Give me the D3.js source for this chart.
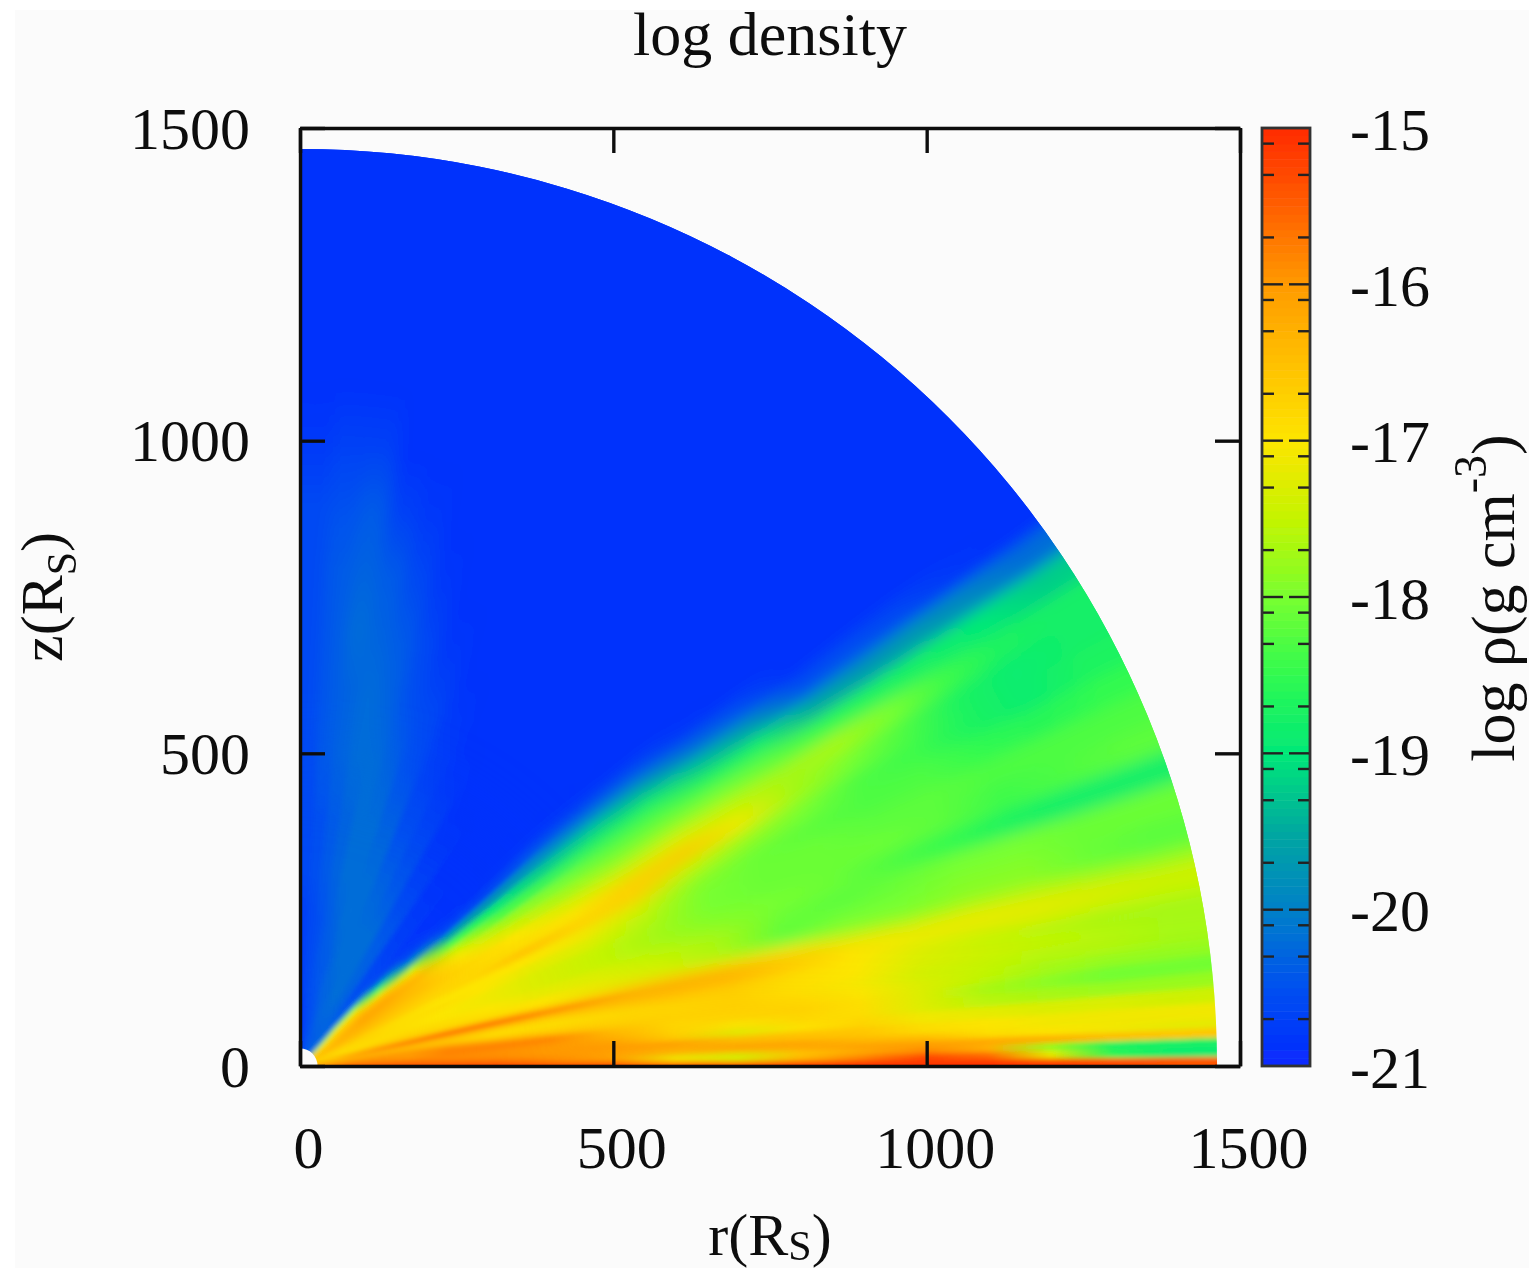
<!DOCTYPE html>
<html>
<head>
<meta charset="utf-8">
<title>log density</title>
<script src="https://cdn.jsdelivr.net/npm/d3@7"></script>
<style>
    html, body { margin: 0; padding: 0; background: #fff; }
    svg { display: block; }
    text { font-family: "Liberation Serif", serif; fill: #111; }
</style>
</head>
<body>
<svg id="chart" width="1529" height="1271"></svg>
<script>
"use strict";

// Radii (R_S) where the density was read, and edges of the theta bands (degrees above the midplane).
var radii = [45, 80, 125, 175, 237, 312, 400, 500, 600, 700, 800, 900, 1000, 1100, 1200, 1300, 1407];
var thetaEdges = [0, 0.6, 1.2, 1.8, 2.4, 3, 4, 5, 6, 7, 8, 9, 10, 11, 12, 13, 14, 16, 18, 20, 22, 24, 26, 28, 30,
    32, 34, 36, 38, 40, 42, 44, 46, 48, 50, 55, 60, 64, 68, 72, 75, 78, 81, 84, 87, 90];

// log density, one row per theta band (bottom to top), one column per radius.
var logRho = [
    [-15.5,-15.3,-15.2,-15.2,-15.2,-15.2,-15.2,-15.2,-15.2,-15.2,-15.2,-15.1,-15.1,-15.1,-15.2,-15.3,-15.4],
    [-15.5,-15.5,-15.5,-15.5,-15.5,-15.5,-15.7,-15.9,-17.0,-17.3,-16.4,-15.8,-15.3,-15.6,-17.2,-18.6,-18.9],
    [-15.6,-15.6,-15.6,-15.6,-15.6,-15.6,-15.9,-16.2,-17.2,-17.4,-16.6,-16.2,-15.9,-16.3,-17.8,-18.7,-18.8],
    [-15.7,-15.6,-15.6,-15.6,-15.7,-15.8,-15.9,-16.1,-16.3,-16.3,-16.2,-16.1,-16.1,-16.2,-16.3,-16.5,-16.6],
    [-15.8,-15.7,-15.7,-15.7,-15.8,-15.9,-16.0,-16.1,-16.2,-16.0,-16.1,-16.4,-16.5,-16.9,-17.0,-17.1,-17.2],
    [-15.9,-15.8,-15.8,-15.8,-15.9,-15.9,-16.0,-16.0,-16.0,-16.4,-16.5,-16.6,-16.9,-17.0,-17.1,-17.1,-17.1],
    [-16.0,-15.9,-15.9,-16.0,-15.8,-15.9,-16.0,-16.1,-16.7,-17.3,-17.0,-16.8,-17.1,-17.2,-17.3,-17.3,-17.4],
    [-16.1,-16.0,-16.0,-16.1,-15.8,-15.8,-15.9,-16.3,-16.8,-17.0,-16.8,-16.9,-17.3,-17.6,-17.7,-17.8,-17.8],
    [-16.2,-16.0,-16.0,-16.0,-15.8,-15.8,-15.8,-16.4,-16.8,-16.7,-16.7,-16.9,-17.3,-17.7,-17.9,-18.1,-18.1],
    [-16.4,-16.1,-15.9,-15.9,-15.9,-16.2,-16.5,-16.7,-16.7,-16.7,-16.8,-17.0,-17.3,-17.5,-17.7,-17.8,-17.8],
    [-16.6,-16.3,-16.2,-16.3,-16.4,-16.7,-16.8,-16.8,-16.8,-16.7,-16.9,-17.1,-17.4,-17.5,-17.6,-17.6,-17.7],
    [-16.8,-16.5,-16.5,-16.5,-16.6,-16.9,-16.9,-16.9,-16.8,-16.7,-16.9,-17.0,-17.3,-17.4,-17.5,-17.6,-17.7],
    [-16.9,-16.6,-16.4,-16.4,-16.5,-16.7,-16.8,-16.7,-16.6,-16.7,-16.9,-17.0,-17.3,-17.5,-17.6,-17.7,-17.7],
    [-16.6,-16.3,-16.1,-16.1,-16.2,-16.3,-16.4,-16.3,-16.3,-16.3,-16.6,-17.0,-17.2,-17.3,-17.3,-17.4,-17.5],
    [-15.6,-15.4,-15.3,-15.3,-15.3,-15.5,-15.8,-15.9,-16.0,-16.2,-16.6,-16.9,-17.1,-17.1,-17.2,-17.3,-17.4],
    [-16.2,-16.1,-16.0,-16.0,-16.0,-16.2,-16.6,-16.8,-16.8,-16.9,-17.1,-17.6,-17.7,-17.6,-17.6,-17.7,-17.8],
    [-16.8,-16.8,-16.7,-16.7,-16.8,-16.9,-17.0,-17.2,-17.4,-17.7,-18.2,-18.0,-18.0,-17.9,-17.9,-18.1,-18.2],
    [-16.8,-16.9,-16.8,-16.8,-16.9,-17.0,-17.2,-17.3,-17.5,-17.7,-18.1,-18.2,-18.1,-18.0,-18.0,-18.1,-18.1],
    [-16.8,-16.9,-16.9,-16.9,-17.0,-17.1,-17.3,-17.5,-17.7,-17.9,-18.0,-18.1,-18.3,-18.5,-18.7,-18.8,-18.8],
    [-16.8,-16.8,-16.8,-16.9,-17.0,-17.1,-17.3,-17.5,-17.7,-18.0,-18.1,-18.1,-18.1,-18.2,-18.4,-18.3,-18.2],
    [-16.7,-16.8,-16.8,-16.9,-16.9,-17.0,-17.2,-17.3,-17.6,-18.0,-18.1,-18.1,-18.2,-18.2,-18.3,-18.3,-18.3],
    [-16.7,-16.7,-16.8,-16.9,-17.0,-17.0,-17.0,-17.1,-17.4,-17.9,-18.1,-18.2,-18.3,-18.3,-18.5,-18.6,-18.5],
    [-16.5,-16.5,-16.6,-16.7,-16.8,-16.8,-16.6,-16.7,-16.7,-17.5,-17.8,-18.0,-18.3,-18.4,-18.7,-18.9,-18.7],
    [-16.4,-16.4,-16.5,-16.6,-16.7,-16.8,-16.9,-17.0,-16.7,-16.6,-17.1,-17.7,-18.0,-18.3,-18.7,-18.9,-18.8],
    [-16.4,-16.4,-16.4,-16.5,-16.6,-16.8,-17.0,-17.3,-17.4,-17.3,-17.5,-17.7,-17.7,-18.0,-18.4,-18.7,-18.8],
    [-16.4,-16.3,-16.3,-16.4,-16.5,-16.9,-17.3,-17.7,-17.9,-17.9,-18.0,-18.2,-18.5,-18.7,-18.8,-19.0,-19.2],
    [-16.5,-16.3,-16.2,-16.3,-16.5,-17.1,-17.7,-18.0,-18.2,-18.3,-18.6,-18.8,-19.5,-19.7,-19.7,-19.9,-20.2],
    [-16.6,-16.4,-16.2,-16.2,-16.4,-17.5,-18.3,-18.6,-18.7,-18.8,-19.3,-19.7,-20.5,-20.5,-20.6,-20.8,-20.9],
    [-16.8,-16.5,-16.2,-16.3,-16.7,-18.3,-18.9,-19.2,-19.2,-19.5,-20.2,-20.5,-20.9,-20.9,-20.9,-20.9,-20.9],
    [-17.0,-16.7,-16.5,-16.7,-17.6,-19.5,-19.8,-19.9,-20.2,-20.4,-20.8,-20.9,-20.9,-20.9,-20.9,-20.9,-20.9],
    [-17.2,-16.8,-16.7,-17.8,-19.5,-20.6,-20.7,-20.7,-20.8,-20.9,-20.9,-20.9,-20.9,-20.9,-20.9,-20.9,-20.9],
    [-17.6,-17.1,-17.3,-19.0,-20.5,-20.8,-20.9,-20.9,-20.9,-20.9,-20.9,-20.9,-20.9,-20.9,-20.9,-20.9,-20.9],
    [-18.6,-17.8,-18.2,-20.2,-20.7,-20.9,-20.9,-20.9,-20.9,-20.9,-20.9,-20.9,-20.9,-20.9,-20.9,-20.9,-20.9],
    [-20.0,-19.5,-20.2,-20.6,-20.8,-20.9,-20.9,-20.9,-20.9,-20.9,-20.9,-20.9,-20.9,-20.9,-20.9,-20.9,-20.9],
    [-20.3,-20.4,-20.5,-20.6,-20.7,-20.8,-20.9,-20.9,-20.9,-20.9,-20.9,-20.9,-20.9,-20.9,-20.9,-20.9,-20.9],
    [-20.3,-20.3,-20.3,-20.3,-20.4,-20.6,-20.8,-20.9,-20.9,-20.9,-20.9,-20.9,-20.9,-20.9,-20.9,-20.9,-20.9],
    [-20.4,-20.3,-20.2,-20.2,-20.2,-20.4,-20.6,-20.8,-20.9,-20.9,-20.9,-20.9,-20.9,-20.9,-20.9,-20.9,-20.9],
    [-20.4,-20.3,-20.2,-20.2,-20.2,-20.3,-20.5,-20.7,-20.8,-20.9,-20.9,-20.9,-20.9,-20.9,-20.9,-20.9,-20.9],
    [-20.4,-20.3,-20.3,-20.2,-20.2,-20.2,-20.3,-20.5,-20.6,-20.8,-20.9,-20.9,-20.9,-20.9,-20.9,-20.9,-20.9],
    [-20.5,-20.4,-20.3,-20.3,-20.2,-20.2,-20.2,-20.3,-20.5,-20.6,-20.8,-20.9,-20.9,-20.9,-20.9,-20.9,-20.9],
    [-20.5,-20.5,-20.4,-20.4,-20.3,-20.2,-20.2,-20.2,-20.3,-20.4,-20.6,-20.8,-20.9,-20.9,-20.9,-20.9,-20.9],
    [-20.5,-20.5,-20.5,-20.4,-20.4,-20.3,-20.3,-20.2,-20.2,-20.3,-20.4,-20.7,-20.9,-20.9,-20.9,-20.9,-20.9],
    [-20.6,-20.6,-20.5,-20.5,-20.5,-20.4,-20.4,-20.3,-20.3,-20.2,-20.3,-20.4,-20.7,-20.9,-20.9,-20.9,-20.9],
    [-20.7,-20.7,-20.6,-20.6,-20.6,-20.5,-20.5,-20.4,-20.4,-20.4,-20.4,-20.5,-20.7,-20.9,-20.9,-20.9,-20.9],
    [-20.8,-20.8,-20.7,-20.7,-20.7,-20.6,-20.6,-20.6,-20.6,-20.6,-20.6,-20.6,-20.8,-20.9,-20.9,-20.9,-20.9]
];

// Colour box.
var colorLevels = [-21, -20.5, -20, -19.5, -19, -18.5, -18, -17.5, -17, -16.5, -16, -15.5, -15];
var colorValues = ["#0828ff", "#0050f0", "#0080c8", "#00a8a0", "#00e878", "#30fa50", "#78ff30", "#c4f400",
    "#fde500", "#ffc000", "#ff9a00", "#ff5f00", "#ff2a00"];

var axisTicks = [0, 500, 1000, 1500];
var colorTicks = [-21, -20, -19, -18, -17, -16, -15];
var colorMinorOffsets = [0.1, 0.3, 0.7];
var innerRadius = 28;
var outerRadius = 1465;

var x = d3.scaleLinear().domain([0, 1500]).range([300, 1240]);
var y = d3.scaleLinear().domain([0, 1500]).range([1066, 128]);
var radius = d3.scaleLinear().domain([0, 1500]).range([0, 939]);
var cbarY = d3.scaleLinear().domain([-21, -15]).range([1066, 128]);
var color = d3.scaleLinear().domain(colorLevels).range(colorValues).clamp(true);

var svg = d3.select("#chart");
var origin = "translate(" + x(0) + "," + y(0) + ")";

svg.append("rect").attr("x", 15).attr("y", 10).attr("width", 1514).attr("height", 1258).attr("fill", "#fbfbfb");

var defs = svg.append("defs");

function blurFilter(id, sd) {
    defs.append("filter").attr("id", id).attr("filterUnits", "userSpaceOnUse")
        .attr("x", 0).attr("y", 0).attr("width", 1529).attr("height", 1271)
        .append("feGaussianBlur").attr("stdDeviation", sd);
}
blurFilter("fine", 2.5);
blurFilter("wide", 8);
blurFilter("maskBlur", 35);
blurFilter("soft", 0.7);

var toAngle = function (deg) { return (90 - deg) * Math.PI / 180; };

defs.append("clipPath").attr("id", "sector")
    .append("path")
    .attr("transform", origin)
    .attr("d", d3.arc()({
        innerRadius: radius(innerRadius),
        outerRadius: radius(outerRadius),
        startAngle: 0,
        endAngle: Math.PI / 2
    }));

// Fade in the wide blur away from the centre and the midplane.
defs.append("mask").attr("id", "outerZone").attr("maskUnits", "userSpaceOnUse")
    .attr("x", 0).attr("y", 0).attr("width", 1529).attr("height", 1271)
    .append("g").attr("filter", "url(#maskBlur)")
    .append("path")
    .attr("transform", origin)
    .attr("fill", "#fff")
    .attr("d", d3.arc()({
        innerRadius: radius(480),
        outerRadius: radius(1800),
        startAngle: toAngle(110),
        endAngle: toAngle(6)
    }));

// One radial gradient per theta band, with a stop at every radius read.
logRho.forEach(function (row, i) {
    var gradient = defs.append("radialGradient")
        .attr("id", "band" + i)
        .attr("gradientUnits", "userSpaceOnUse")
        .attr("cx", 0).attr("cy", 0).attr("r", radius(1500));
    gradient.selectAll("stop")
        .data(row)
        .enter().append("stop")
        .attr("offset", function (d, j) { return radii[j] / 1500; })
        .attr("stop-color", function (d) { return color(d); });
});

var lastRow = logRho.length - 1;

// The edge bands run on past the clip so the blur does not fade at the borders.
var bandArc = d3.arc()
    .innerRadius(0)
    .outerRadius(radius(1600))
    .startAngle(function (d, i) { return toAngle(thetaEdges[i + 1] + (i === lastRow ? 5 : 0)); })
    .endAngle(function (d, i) { return toAngle(thetaEdges[i] - (i === 0 ? 5 : 0)); });

function drawBands(parent, filterId) {
    parent.append("g")
        .attr("filter", "url(#" + filterId + ")")
        .append("g")
        .attr("transform", origin)
        .selectAll("path")
        .data(logRho)
        .enter().append("path")
        .attr("d", bandArc)
        .attr("fill", function (d, i) { return "url(#band" + i + ")"; })
        .attr("stroke", function (d, i) { return "url(#band" + i + ")"; })
        .attr("stroke-width", 1);
}

var field = svg.append("g").attr("clip-path", "url(#sector)");
drawBands(field, "fine");
drawBands(field.append("g").attr("mask", "url(#outerZone)"), "wide");

// Everything below gets a slight softening, the source is a scaled-up bitmap.
var soft = svg.append("g").attr("filter", "url(#soft)");

function styleAxis(g) {
    g.selectAll("path").attr("stroke", "#111").attr("stroke-width", 3.4);
    g.selectAll("line").attr("stroke", "#111").attr("stroke-width", 3.4);
    g.selectAll("text").attr("font-size", 60).attr("fill", "#111").style("font-family", "'Liberation Serif', serif");
}

var axisFormat = d3.format("d");

soft.append("g").attr("transform", "translate(0," + y(0) + ")")
    .call(d3.axisBottom(x).tickValues(axisTicks).tickFormat(axisFormat).tickSizeInner(-25).tickSizeOuter(0).tickPadding(0))
    .call(styleAxis)
    .selectAll("text").attr("dx", 8).attr("y", 102).attr("dy", 0);
soft.append("g").attr("transform", "translate(0," + y(1500) + ")")
    .call(d3.axisTop(x).tickValues(axisTicks).tickSizeInner(-25).tickSizeOuter(0).tickFormat(""))
    .call(styleAxis);
soft.append("g").attr("transform", "translate(" + x(0) + ",0)")
    .call(d3.axisLeft(y).tickValues(axisTicks).tickFormat(axisFormat).tickSizeInner(-25).tickSizeOuter(0).tickPadding(0))
    .call(styleAxis)
    .selectAll("text").attr("x", -50).attr("dy", 20);
soft.append("g").attr("transform", "translate(" + x(1500) + ",0)")
    .call(d3.axisRight(y).tickValues(axisTicks).tickSizeInner(-25).tickSizeOuter(0).tickFormat(""))
    .call(styleAxis);

// Colour bar
var barLeft = 1262, barRight = 1310;
var barStrips = d3.range(0, 120).map(function (k) { return -21 + k * 0.05; });
soft.append("g").selectAll("rect")
    .data(barStrips)
    .enter().append("rect")
    .attr("x", barLeft)
    .attr("width", barRight - barLeft)
    .attr("y", function (d) { return cbarY(d + 0.05); })
    .attr("height", function (d) { return cbarY(d) - cbarY(d + 0.05) + 0.5; })
    .attr("fill", function (d) { return color(d + 0.025); });

var minorTicks = [];
colorTicks.slice(1).forEach(function (t) {
    colorMinorOffsets.forEach(function (o) { minorTicks.push(t - o); });
});
var barTicks = soft.append("g").attr("stroke", "#222");
[[colorTicks.slice(1, -1), 21, 2.4], [minorTicks, 12, 2.4]].forEach(function (set) {
    set[0].forEach(function (v) {
        barTicks.append("line").attr("x1", barLeft).attr("x2", barLeft + set[1])
            .attr("y1", cbarY(v)).attr("y2", cbarY(v)).attr("stroke-width", set[2]);
        barTicks.append("line").attr("x1", barRight).attr("x2", barRight - set[1])
            .attr("y1", cbarY(v)).attr("y2", cbarY(v)).attr("stroke-width", set[2]);
    });
});
soft.append("rect").attr("x", barLeft).attr("y", cbarY(-15))
    .attr("width", barRight - barLeft).attr("height", cbarY(-21) - cbarY(-15))
    .attr("fill", "none").attr("stroke", "#333").attr("stroke-width", 2.8);

soft.append("g").attr("transform", "translate(" + barRight + ",0)")
    .call(d3.axisRight(cbarY).tickValues(colorTicks).tickSize(0).tickPadding(40).tickFormat(d3.format("d")))
    .call(function (g) { g.select("path").remove(); })
    .call(styleAxis)
    .selectAll("text").attr("dy", 21).text(function (d) { return "-" + Math.abs(d); });

// Titles
soft.append("text").attr("x", 770).attr("y", 55).attr("text-anchor", "middle").attr("font-size", 62).text("log density");

var xLabel = soft.append("text").attr("x", 770).attr("y", 1255).attr("text-anchor", "middle").attr("font-size", 60);
xLabel.append("tspan").text("r(R");
xLabel.append("tspan").attr("dy", 5).attr("font-size", 42).text("S");
xLabel.append("tspan").attr("dy", -5).text(")");

var yLabel = soft.append("text").attr("transform", "translate(62,597) rotate(-90)").attr("text-anchor", "middle").attr("font-size", 60);
yLabel.append("tspan").text("z(R");
yLabel.append("tspan").attr("dy", 14).attr("font-size", 42).text("S");
yLabel.append("tspan").attr("dy", -14).text(")");

var cbLabel = soft.append("text").attr("transform", "translate(1514,598) rotate(-90)").attr("text-anchor", "middle").attr("font-size", 62);
cbLabel.append("tspan").text("log ρ(g cm");
cbLabel.append("tspan").attr("dy", -28).attr("font-size", 46).text("-3");
cbLabel.append("tspan").attr("dy", 28).text(")");
</script>
</body>
</html>
